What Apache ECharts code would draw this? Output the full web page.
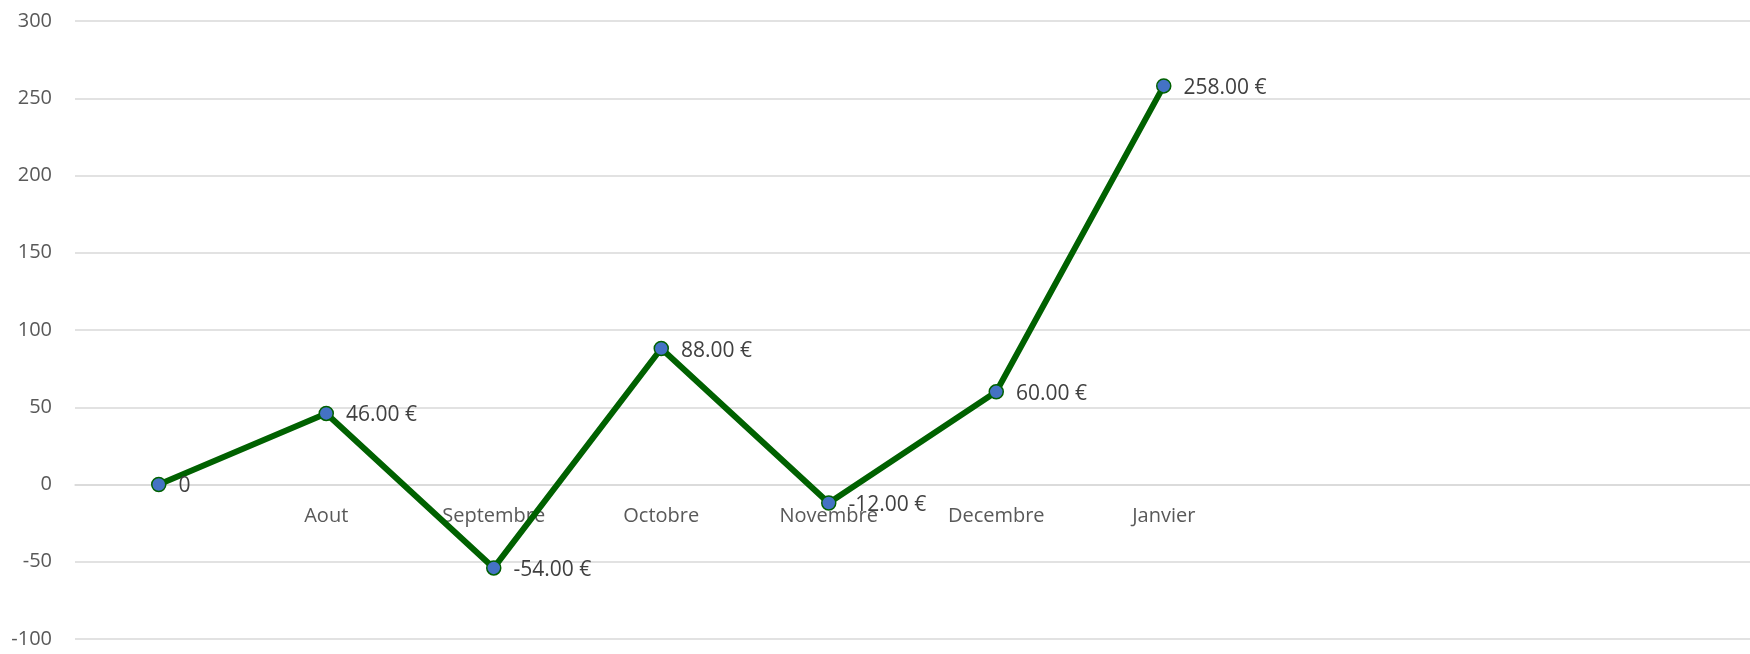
<!DOCTYPE html>
<html>
<head>
<meta charset="utf-8">
<script src="https://cdn.jsdelivr.net/npm/echarts@6/dist/echarts.min.js"></script>
<style>
  html, body { margin: 0; padding: 0; background: #fff; }
  #chart { width: 1750px; height: 654px; }
</style>
</head>
<body>
<div id="chart"></div>
<script>
// mois (la première catégorie n'a pas de libellé, les dernières sont vides)
var months = ['', 'Aout', 'Septembre', 'Octobre', 'Novembre', 'Decembre', 'Janvier', '', '', ''];
var balance = [0, 46, -54, 88, -12, 60, 258];
var yMin = -100, yMax = 300, yStep = 50;

var gridTop = 21, gridBottom = 15, chartH = 654;
// l'axe des mois est posé sur la ligne du zéro
var plotH = chartH - gridTop - gridBottom;
var zeroShift = -plotH * (0 - yMin) / (yMax - yMin);

var chart = echarts.init(document.getElementById('chart'));
chart.setOption({
  animation: false,
  grid: { left: 75, right: 0, top: gridTop, bottom: gridBottom, containLabel: false, outerBoundsMode: 'none' },
  xAxis: {
    type: 'category',
    data: months,
    boundaryGap: true,
    position: 'bottom',
    offset: zeroShift,
    axisLine: { show: true, onZero: false, lineStyle: { color: '#d9d9d9', width: 1.5 } },
    axisTick: { show: false },
    axisLabel: {
      color: '#595959',
      fontFamily: 'Open Sans, sans-serif',
      fontSize: 20,
      margin: 22,
      interval: 0
    }
  },
  yAxis: {
    type: 'value',
    min: yMin,
    max: yMax,
    interval: yStep,
    axisLine: { show: false },
    axisTick: { show: false },
    splitLine: { lineStyle: { color: '#d9d9d9', width: 1.5 } },
    axisLabel: {
      color: '#595959',
      fontFamily: 'Open Sans, sans-serif',
      fontSize: 20,
      margin: 23
    }
  },
  series: [{
    type: 'line',
    data: balance,
    symbol: 'circle',
    symbolSize: 14,
    lineStyle: { color: '#006100', width: 6 },
    itemStyle: { color: '#4472c4', borderColor: '#006100', borderWidth: 1.5 },
    z: 3,
    label: {
      show: true,
      position: 'right',
      distance: 12,
      offset: [0, 2],
      color: '#404040',
      fontFamily: 'Open Sans, sans-serif',
      fontSize: 21,
      formatter: function (p) {
        if (p.dataIndex === 0) return '0';
        return p.value.toFixed(2) + ' €';
      }
    }
  }]
});
</script>
</body>
</html>
